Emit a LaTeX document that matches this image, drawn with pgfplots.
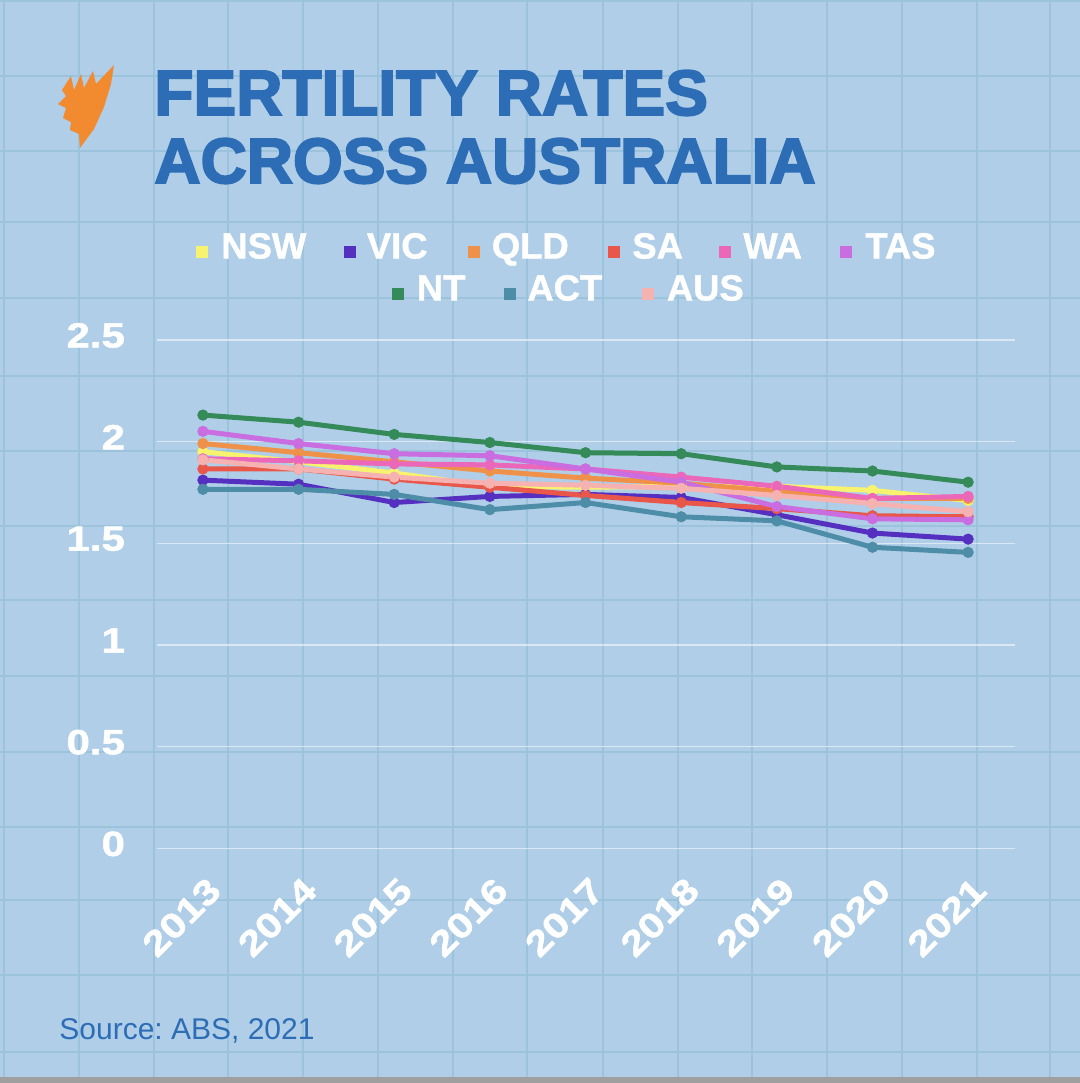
\documentclass[border=0pt]{standalone}
\usepackage{fontspec}
\setmainfont{Liberation Sans}
\newfontfamily\titlefont{Liberation Sans}[BoldFeatures={FakeBold=3}]
\newfontfamily\legfont{Liberation Sans}[BoldFeatures={FakeBold=1.2}]
\newfontfamily\numfont{Liberation Sans}[BoldFeatures={FakeBold=1.5,FakeStretch=1.2}]
\usepackage{pgfplots}
\pgfplotsset{compat=1.18}
\definecolor{bg}{HTML}{B0CEE7}
\definecolor{gridc}{HTML}{9BC4DC}
\definecolor{titleblue}{HTML}{2C6DB5}
\definecolor{cNSW}{HTML}{F8F36E}
\definecolor{cVIC}{HTML}{5530C0}
\definecolor{cQLD}{HTML}{F0914A}
\definecolor{cSA}{HTML}{E8574A}
\definecolor{cWA}{HTML}{EA67B9}
\definecolor{cTAS}{HTML}{C96DE0}
\definecolor{cNT}{HTML}{348A58}
\definecolor{cACT}{HTML}{4E8DA8}
\definecolor{cAUS}{HTML}{F5B2B0}
\definecolor{logoc}{HTML}{F28A30}
\frenchspacing
\begin{document}
\begin{tikzpicture}
\begin{scope}[x=0.5pt,y=-0.5pt]
\path[use as bounding box] (0,0) rectangle (1080,1083);
\fill[bg] (0,0) rectangle (1080,1083);
\foreach \x in {4,79,154,228,303,378,453,527,603,678,752,827,902,977,1050}
  \draw[gridc, line width=1.4pt] (\x,0) -- (\x,1083);
\foreach \y in {1,76,151,222,298,376,451,526,600,676,752,827,900,975,1052}
  \draw[gridc, line width=1.4pt] (0,\y) -- (1080,\y);
\fill[gray!75] (0,1077) rectangle (1080,1083);
% logo
\fill[logoc] (80,148) -- (79,134) -- (70,130) -- (71,122) -- (63,118) -- (66,108) -- (58,104) -- (66,96) -- (62,90) -- (71,76) -- (74,90) -- (81,74) -- (84,88) -- (93,71) -- (96,84) -- (114,65) -- (111,84) -- (104,107) -- (94,129) -- cycle;
% title
\node[anchor=base west, inner sep=0, text=titleblue, font=\titlefont\bfseries\fontsize{32}{34}\selectfont] at (154,115) {FERTILITY RATES};
\node[anchor=base west, inner sep=0, text=titleblue, font=\titlefont\bfseries\fontsize{32}{34}\selectfont] at (154,183) {ACROSS AUSTRALIA};
% legend
\foreach \mx/\tx/\c/\t/\yy in {196/221/cNSW/NSW/258.5, 344/366.5/cVIC/VIC/258.5, 468/491.5/cQLD/QLD/258.5, 608/632/cSA/SA/258.5, 719/743/cWA/WA/258.5, 840/865/cTAS/TAS/258.5, 392/416.5/cNT/NT/300.5, 504/527/cACT/ACT/300.5, 642/666.5/cAUS/AUS/300.5}{
  \fill[\c] (\mx,\yy-12.5) rectangle (\mx+11.5,\yy-1);
  \node[anchor=base west, inner sep=0, text=white, font=\legfont\bfseries\fontsize{18.2}{20}\selectfont] at (\tx,\yy) {\t};
}
% source
\node[anchor=base west, inner sep=0, text=titleblue, font=\fontsize{15}{17}\selectfont] at (59,1039) {Source: ABS, 2021};
\end{scope}
\begin{axis}[
  at={(78.5pt,-424.15pt)}, anchor=south west,
  width=429pt, height=254.25pt, scale only axis,
  xmin=2012.52, xmax=2021.49, ymin=0, ymax=2.5,
  axis line style={draw=none}, tick style={draw=none},
  xtick={2013,2014,2015,2016,2017,2018,2019,2020,2021},
  xticklabels={2013,2014,2015,2016,2017,2018,2019,2020,2021},
  ytick={0,0.5,1,1.5,2,2.5},
  yticklabels={0,0.5,1,1.5,2,2.5},
  ymajorgrids, major grid style={white, opacity=0.55, line width=0.7pt},
  ticklabel style={text=white, font=\numfont\bfseries\fontsize{17.5}{19}\selectfont},
  xticklabel style={xshift=8.3pt, yshift=-15.5pt, rotate=45, anchor=east},
  yticklabel style={xshift=-12.5pt, yshift=2.2pt, anchor=east},
  every axis plot/.append style={line width=2.5pt, mark=*, mark size=2.6pt, mark options={line width=0.4pt}, line join=round},
  clip=false,
]
\addplot[color=cNSW] coordinates {(2013,1.95) (2014,1.90) (2015,1.845) (2016,1.78) (2017,1.775) (2018,1.78) (2019,1.78) (2020,1.76) (2021,1.71)};
\addplot[color=cVIC] coordinates {(2013,1.81) (2014,1.79) (2015,1.70) (2016,1.73) (2017,1.74) (2018,1.725) (2019,1.64) (2020,1.55) (2021,1.52)};
\addplot[color=cQLD] coordinates {(2013,1.99) (2014,1.945) (2015,1.90) (2016,1.855) (2017,1.82) (2018,1.795) (2019,1.755) (2020,1.72) (2021,1.72)};
\addplot[color=cSA] coordinates {(2013,1.865) (2014,1.865) (2015,1.815) (2016,1.775) (2017,1.735) (2018,1.70) (2019,1.67) (2020,1.635) (2021,1.63)};
\addplot[color=cWA] coordinates {(2013,1.915) (2014,1.905) (2015,1.89) (2016,1.885) (2017,1.865) (2018,1.825) (2019,1.78) (2020,1.72) (2021,1.73)};
\addplot[color=cTAS] coordinates {(2013,2.05) (2014,1.99) (2015,1.94) (2016,1.93) (2017,1.865) (2018,1.80) (2019,1.68) (2020,1.62) (2021,1.615)};
\addplot[color=cNT] coordinates {(2013,2.13) (2014,2.095) (2015,2.035) (2016,1.995) (2017,1.945) (2018,1.94) (2019,1.875) (2020,1.855) (2021,1.80)};
\addplot[color=cACT] coordinates {(2013,1.765) (2014,1.765) (2015,1.74) (2016,1.665) (2017,1.70) (2018,1.63) (2019,1.61) (2020,1.48) (2021,1.455)};
\addplot[color=cAUS] coordinates {(2013,1.91) (2014,1.865) (2015,1.825) (2016,1.795) (2017,1.785) (2018,1.77) (2019,1.735) (2020,1.695) (2021,1.655)};
\end{axis}
\end{tikzpicture}
\end{document}
